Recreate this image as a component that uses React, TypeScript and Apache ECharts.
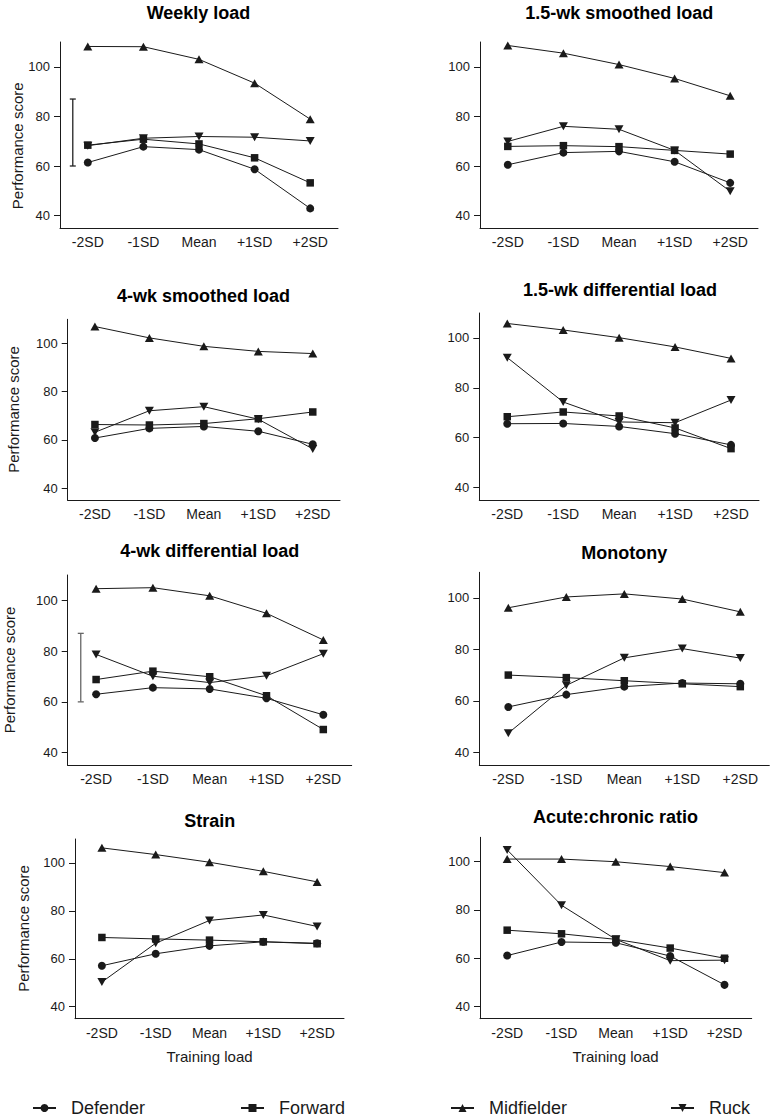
import React, { useEffect, useRef } from "react";
import * as echarts from "echarts";

// ---- Data ----
const categories = ["-2SD", "-1SD", "Mean", "+1SD", "+2SD"];
const panelTitles = [
  "Weekly load",
  "1.5-wk smoothed load",
  "4-wk smoothed load",
  "1.5-wk differential load",
  "4-wk differential load",
  "Monotony",
  "Strain",
  "Acute:chronic ratio",
];
const positions = ["Defender", "Forward", "Midfielder", "Ruck"];
const yTicks = [40, 60, 80, 100];

// one row per panel (same order as panelTitles)
const defender = [
  [61.4, 67.8, 66.6, 58.7, 42.9],
  [60.5, 65.4, 65.9, 61.7, 53.2],
  [60.8, 64.8, 65.6, 63.6, 58.2],
  [65.6, 65.7, 64.5, 61.6, 57.1],
  [63.0, 65.6, 65.1, 61.4, 54.9],
  [57.6, 62.4, 65.5, 66.9, 66.6],
  [57.1, 62.1, 65.4, 67.1, 66.5],
  [61.1, 66.7, 66.4, 60.9, 49.0],
];
const forward = [
  [68.4, 70.8, 68.9, 63.3, 53.2],
  [67.9, 68.2, 67.8, 66.3, 64.8],
  [66.4, 66.2, 66.8, 68.8, 71.6],
  [68.4, 70.3, 68.7, 63.9, 55.6],
  [68.8, 72.1, 69.9, 62.4, 49.1],
  [70.0, 69.0, 67.8, 66.6, 65.5],
  [68.9, 68.3, 67.8, 67.1, 66.3],
  [71.6, 70.1, 67.8, 64.2, 60.0],
];
const midfielder = [
  [108.2, 108.1, 103.0, 93.4, 78.9],
  [108.6, 105.5, 100.9, 95.3, 88.3],
  [107.0, 102.3, 98.8, 96.7, 95.8],
  [105.8, 103.2, 100.1, 96.4, 91.8],
  [104.6, 105.0, 101.8, 94.9, 84.4],
  [96.2, 100.4, 101.6, 99.6, 94.6],
  [106.3, 103.5, 100.3, 96.5, 92.1],
  [101.0, 101.0, 99.9, 97.9, 95.4],
];
const ruck = [
  [68.2, 71.2, 71.9, 71.6, 70.1],
  [69.9, 76.0, 74.8, 66.3, 49.8],
  [63.2, 72.1, 73.8, 68.6, 56.3],
  [92.1, 74.3, 66.3, 66.0, 75.1],
  [78.7, 70.1, 67.6, 70.3, 79.0],
  [47.4, 66.0, 76.7, 80.3, 76.6],
  [50.3, 66.5, 76.0, 78.3, 73.5],
  [104.8, 81.9, 67.8, 59.0, 59.2],
];
// error bar (low, high) shown in panels 0 and 4
const errorBarPanels = [0, 4];
const errorBarLow = 60;
const errorBarHigh = 87;

// ---- Layout (pixels) ----
const layouts = [
  { left: 60, top: 42, width: 278, height: 186 },
  { left: 480, top: 42, width: 278, height: 186 },
  { left: 67.7, top: 319.3, width: 272.3, height: 181 },
  { left: 479.3, top: 313, width: 279.7, height: 187 },
  { left: 67.7, top: 575, width: 284, height: 190.3 },
  { left: 479.3, top: 572.3, width: 290, height: 192.7 },
  { left: 75, top: 839, width: 269, height: 179.7 },
  { left: 480, top: 837.3, width: 271.7, height: 181.4 },
];
const titlePos = [
  [198.5, 13],
  [619.3, 13],
  [203.5, 295.5],
  [620, 290],
  [209.7, 550.8],
  [624.2, 552.5],
  [209.7, 821.2],
  [615.5, 817],
];
const yNamePos: Record<number, [number, number]> = {
  0: [17.5, 145.8],
  2: [13, 409.5],
  4: [9.5, 670],
  6: [23.3, 928.5],
};
const xNamePos: Record<number, [number, number]> = {
  6: [209.5, 1056],
  7: [615.5, 1056],
};
const legendLeft = [32, 240, 450, 670];

const FONT = "'Liberation Sans', Arial, Helvetica, sans-serif";
const INK = "#1a1a1a";
const DOWN_TRI = "path://M0,0L10,0L5,9Z";
const symbols = ["circle", "rect", "triangle", DOWN_TRI];
const symbolSizes: any[] = [8, 7.5, [9, 8], [9, 8]];
const seriesData = [defender, forward, midfielder, ruck];

export default function App() {
  const ref = useRef<HTMLDivElement>(null);
  useEffect(() => {
    if (!ref.current) return;
    const chart = echarts.init(ref.current, undefined, { renderer: "svg" });

    const series: any[] = [];
    layouts.forEach((_, p) => {
      positions.forEach((name, k) => {
        series.push({
          type: "line",
          name,
          xAxisIndex: p,
          yAxisIndex: p,
          data: seriesData[k][p],
          symbol: symbols[k],
          symbolSize: symbolSizes[k],
          showAllSymbol: true,
          lineStyle: { color: INK, width: 1 },
          itemStyle: { color: INK },
          emphasis: { disabled: true },
          z: 3,
        });
      });
    });
    errorBarPanels.forEach((p, idx) => {
      const color = idx === 0 ? "#222" : "#666";
      series.push({
        type: "custom",
        xAxisIndex: p,
        yAxisIndex: p,
        silent: true,
        data: [[0, errorBarLow, errorBarHigh]],
        renderItem: (params: any, api: any) => {
          const lo = api.coord([api.value(0), api.value(1)]);
          const hi = api.coord([api.value(0), api.value(2)]);
          const band = api.size([1, 0])[0];
          const x = lo[0] - 0.27 * band;
          const cap = 3;
          const st = { stroke: color, lineWidth: 1.3 };
          return {
            type: "group",
            children: [
              { type: "line", shape: { x1: x, y1: lo[1], x2: x, y2: hi[1] }, style: st },
              { type: "line", shape: { x1: x - cap, y1: lo[1], x2: x + cap, y2: lo[1] }, style: st },
              { type: "line", shape: { x1: x - cap, y1: hi[1], x2: x + cap, y2: hi[1] }, style: st },
            ],
          };
        },
      });
    });

    const graphic: any[] = [];
    panelTitles.forEach((t, i) => {
      graphic.push({
        type: "text",
        x: titlePos[i][0],
        y: titlePos[i][1],
        style: {
          text: t,
          fill: "#000",
          font: `bold 18px ${FONT}`,
          textAlign: "center",
          textVerticalAlign: "middle",
        },
      });
    });
    Object.keys(yNamePos).forEach((k) => {
      const [x, y] = yNamePos[+k];
      graphic.push({
        type: "text",
        x,
        y,
        rotation: Math.PI / 2,
        style: {
          text: "Performance score",
          fill: INK,
          font: `15px ${FONT}`,
          textAlign: "center",
          textVerticalAlign: "middle",
        },
      });
    });
    Object.keys(xNamePos).forEach((k) => {
      const [x, y] = xNamePos[+k];
      graphic.push({
        type: "text",
        x,
        y,
        style: {
          text: "Training load",
          fill: INK,
          font: `15px ${FONT}`,
          textAlign: "center",
          textVerticalAlign: "middle",
        },
      });
    });

    chart.setOption({
      animation: false,
      backgroundColor: "#fff",
      textStyle: { fontFamily: FONT },
      grid: layouts.map((l) => ({ ...l, containLabel: false })),
      xAxis: layouts.map((_, i) => ({
        type: "category",
        gridIndex: i,
        data: categories,
        boundaryGap: true,
        axisLine: { lineStyle: { color: INK, width: 1 } },
        axisTick: { alignWithLabel: true, length: 6, lineStyle: { color: INK } },
        axisLabel: { fontSize: 14, color: INK, margin: 7, interval: 0, fontFamily: FONT },
        splitLine: { show: false },
      })),
      yAxis: layouts.map((_, i) => ({
        type: "value",
        gridIndex: i,
        min: 35,
        max: 110,
        axisLine: { show: true, lineStyle: { color: INK, width: 1 } },
        axisTick: { show: true, length: 6, lineStyle: { color: INK }, customValues: yTicks },
        axisLabel: { fontSize: 13, color: INK, margin: 10, customValues: yTicks, fontFamily: FONT },
        splitLine: { show: false },
      })),
      legend: positions.map((name, i) => ({
        data: [name],
        left: legendLeft[i],
        top: 1099,
        padding: 0,
        itemWidth: 23,
        itemHeight: 10,
        selectedMode: false,
        textStyle: { fontSize: 18, color: INK, padding: [0, 0, 0, 10], fontFamily: FONT },
      })),
      graphic,
      series,
    });
    return () => chart.dispose();
  }, []);
  return (
    <div
      ref={ref}
      style={{ position: "absolute", left: 0, top: 0, width: 773, height: 1120, background: "#fff" }}
    />
  );
}
